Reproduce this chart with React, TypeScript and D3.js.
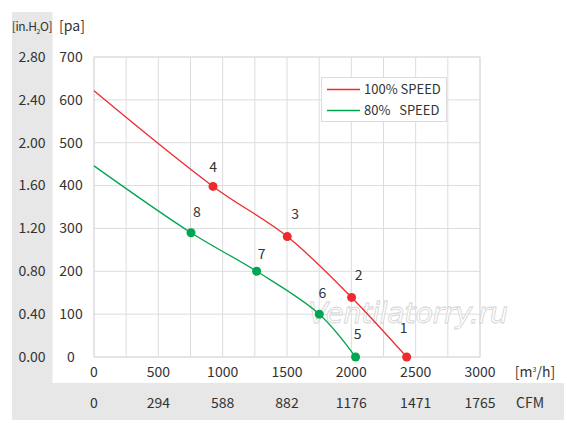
import React from "react";
import * as d3 from "d3";

const xTicks = [0, 500, 1000, 1500, 2000, 2500, 3000];
const cfmLabels = ["0", "294", "588", "882", "1176", "1471", "1765"];
const paTicks = [0, 100, 200, 300, 400, 500, 600, 700];
const inH2OLabels = ["0.00", "0.40", "0.80", "1.20", "1.60", "2.00", "2.40", "2.80"];

const speed100Curve: [number, number][] = [[0, 621], [925, 398], [1502, 281], [2002, 139], [2430, 0]];
const speed80Curve: [number, number][] = [[0, 446], [754, 290], [1264, 200], [1751, 100], [2033, 0]];
const speed100Points = [
  { id: "4", q: 925, p: 398 },
  { id: "3", q: 1502, p: 281 },
  { id: "2", q: 2002, p: 139 },
  { id: "1", q: 2430, p: 0 },
];
const speed80Points = [
  { id: "8", q: 754, p: 290 },
  { id: "7", q: 1264, p: 200 },
  { id: "6", q: 1751, p: 100 },
  { id: "5", q: 2033, p: 0 },
];
const labelOffsets: Record<string, [number, number]> = {
  "4": [0, -14], "3": [8, -18], "2": [7, -17], "1": [-3, -24],
  "8": [6, -16], "7": [5, -12], "6": [3, -16], "5": [2, -18],
};

const RED = "#ee2a2f";
const GREEN = "#00a651";
const GRID = "#dcdcdc";
const BAND = "#e6e7e6";
const TXT = "#333333";
const FONT = "'Noto Sans CJK JP', 'Noto Sans', sans-serif";

export default function App() {
  const W = 567, H = 430;
  const x = d3.scaleLinear().domain([0, 3000]).range([94, 480]);
  const y = d3.scaleLinear().domain([0, 700]).range([357, 57]);
  const line = d3.line<[number, number]>().x(d => x(d[0])).y(d => y(d[1])).curve(d3.curveCatmullRom.alpha(0.5));
  const vGrid = d3.range(0, 3001, 250);

  return (
    <svg width={W} height={H} style={{ position: "absolute", left: 0, top: 0, background: "#fff" }} fontFamily={FONT}>
      <rect x={0} y={0} width={W} height={H} fill="#fff" />
      {/* bands */}
      <rect x={12} y={12} width={40.5} height={408} fill={BAND} />
      <rect x={12} y={383} width={552} height={37} fill={BAND} />
      {/* grid */}
      {vGrid.map(v => (
        <line key={"v" + v} x1={x(v)} x2={x(v)} y1={y(700)} y2={y(0)} stroke={GRID} strokeWidth={1} />
      ))}
      {paTicks.map(v => (
        <line key={"h" + v} x1={x(0)} x2={x(3000)} y1={y(v)} y2={y(v)} stroke={GRID} strokeWidth={1} />
      ))}
      <rect x={x(0)} y={y(700)} width={x(3000) - x(0)} height={y(0) - y(700)} fill="none" stroke={GRID} />
      {/* headers */}
      <text x={32} y={31} fontSize={12} fill={TXT} textAnchor="middle" letterSpacing={-0.4}>
        [in.H<tspan fontSize={7} dy={3}>2</tspan><tspan dy={-3}>O]</tspan>
      </text>
      <text x={72} y={31} fontSize={14} fill={TXT} textAnchor="middle">[pa]</text>
      {/* y labels */}
      {paTicks.map((v, i) => (
        <g key={"yl" + v}>
          <text x={71} y={y(v)} dy="0.35em" fontSize={14} fill={TXT} textAnchor="middle">{v}</text>
          <text x={32} y={y(v)} dy="0.35em" fontSize={14} fill={TXT} textAnchor="middle">{inH2OLabels[i]}</text>
        </g>
      ))}
      {/* x labels */}
      {xTicks.map((v, i) => (
        <g key={"xl" + v}>
          <text x={x(v)} y={372} dy="0.35em" fontSize={14} fill={TXT} textAnchor="middle">{v}</text>
          <text x={x(v)} y={403} dy="0.35em" fontSize={14} fill={TXT} textAnchor="middle">{cfmLabels[i]}</text>
        </g>
      ))}
      <text x={535} y={372} dy="0.35em" fontSize={14} fill={TXT} textAnchor="middle">
        [m<tspan fontSize={7} dy={-5}>3</tspan><tspan dy={5}>/h]</tspan>
      </text>
      <text x={530} y={403} dy="0.35em" fontSize={14} fill={TXT} textAnchor="middle">CFM</text>
      {/* watermark */}
      <text x={408} y={323} fontSize={29} fontStyle="italic" fill="#ffffff" stroke="#cfcfcf" strokeWidth={0.8} textAnchor="middle" opacity={0.9} fontFamily="'DejaVu Sans', sans-serif" letterSpacing={-0.5}>
        Ventilatorry.ru
      </text>
      {/* curves */}
      <path d={line(speed100Curve) || ""} fill="none" stroke={RED} strokeWidth={1.3} />
      <path d={line(speed80Curve) || ""} fill="none" stroke={GREEN} strokeWidth={1.3} />
      {speed100Points.map(d => (
        <g key={"r" + d.id}>
          <circle cx={x(d.q)} cy={y(d.p)} r={4.5} fill={RED} />
          <text x={x(d.q) + labelOffsets[d.id][0]} y={y(d.p) + labelOffsets[d.id][1]} fontSize={14} fill={TXT} textAnchor="middle">{d.id}</text>
        </g>
      ))}
      {speed80Points.map(d => (
        <g key={"g" + d.id}>
          <circle cx={x(d.q)} cy={y(d.p)} r={4.5} fill={GREEN} />
          <text x={x(d.q) + labelOffsets[d.id][0]} y={y(d.p) + labelOffsets[d.id][1]} fontSize={14} fill={TXT} textAnchor="middle">{d.id}</text>
        </g>
      ))}
      {/* legend */}
      <rect x={321.5} y={77.5} width={125} height={44} fill="#fff" stroke={GRID} />
      <line x1={327} x2={360} y1={89.5} y2={89.5} stroke={RED} strokeWidth={1.5} />
      <line x1={327} x2={360} y1={110.5} y2={110.5} stroke={GREEN} strokeWidth={1.5} />
      <text x={364} y={89.5} dy="0.35em" fontSize={13} fill={TXT}>100% SPEED</text>
      <text x={364} y={110.5} dy="0.35em" fontSize={13} fill={TXT} style={{ whiteSpace: "pre" }}>{"80%   SPEED"}</text>
    </svg>
  );
}
